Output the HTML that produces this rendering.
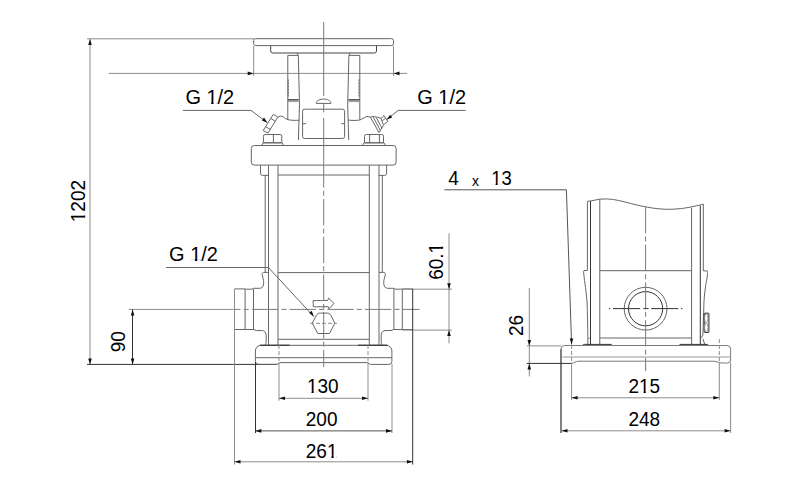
<!DOCTYPE html>
<html><head><meta charset="utf-8">
<style>
html,body{margin:0;padding:0;background:#fff;width:800px;height:492px;overflow:hidden}
svg{display:block}
text{font-family:"Liberation Sans",sans-serif;font-size:19px;fill:#000}
.o{fill:none;stroke:#666;stroke-width:1}
.d{fill:none;stroke:#8c8c8c;stroke-width:1}
.c{fill:none;stroke:#7a7a7a;stroke-width:1;stroke-dasharray:26.3 3.2 5 3.2}
.a{fill:#111;stroke:none}
</style></head><body>
<svg width="800" height="492" viewBox="0 0 800 492">
<rect width="800" height="492" fill="#fff"/>
<!-- ============ FRONT VIEW ============ -->
<g class="d">
<path d="M87 38.8H254M90 39V364.5"/>
<path d="M87 364.4H277" style="stroke:#333"/>
<path d="M108.8 73.4H407M253.7 46V76M393.5 46V76"/>
</g>
<path class="a" d="M90 39l-1.8 6h3.6zM90 364.5l-1.8 -6h3.6z"/>
<path class="a" d="M253.7 73.4l-6 -1.8v3.6zM393.5 73.4l6 -1.8v3.6z"/>

<g class="o">
<path d="M256 38.7H391.5a2 2 0 0 1 2 2V43.6a2 2 0 0 1 -2 2H255.7a2 2 0 0 1 -2 -2V40.7a2 2 0 0 1 2 -2z"/>
<path d="M270.7 45.6V51a2 2 0 0 0 2 2H374.5a2 2 0 0 0 2 -2V45.6" style="stroke:#444"/>
<!-- legs -->
<path d="M287.8 55.4H298.3L299.5 104.8L298.4 140M287.8 55.4V119.7M297 52.8L298.3 55.4"/>
<path d="M359.8 55.4H348.9L347.7 104.8L348.7 140M359.8 55.4V119.7M350.2 52.8L348.9 55.4"/>
<path d="M287.8 99.9H298.6M348.4 99.9H359.5" style="stroke:#222;stroke-width:1.4"/>
<path d="M287.8 101.6H298.7M348.4 101.6H359.5" style="stroke:#999"/>
<path d="M288.3 79.5V96.5M358.9 79.5V96.5" stroke-dasharray="2 1"/>
<!-- dome -->
<path d="M316.2 103.4H331C331 100.5 327 99.1 323.6 99.1S316.2 100.5 316.2 103.4z"/>
<!-- nameplate -->
<rect x="302.6" y="109.2" width="42" height="29.3" rx="2"/>
<path d="M302.6 123.7H306M341.4 123.7H344.6"/>
<!-- housing curves -->
<path d="M277.8 117.4L280.2 116C283 115.6 284.5 118.8 288 119.7C291 120.4 295 120.5 299.5 120.2"/>
<path d="M359.9 120L366.8 116.4L370.4 117.2"/>
<path d="M359.9 120C356 120.6 352 120.6 348 120"/>
<!-- left fitting -->
<path d="M273.3 114.3L277.8 117.2L268 133L263.1 130.6z"/>
<path d="M270.9 118.4L275.3 121.3M265.8 126.8L270.4 129.4"/>
<!-- right fitting -->
<path d="M370.4 117.2C372 116 376 116.5 381 118.4L383.5 125.3L379 132.6z"/>
<path d="M373.3 117.2L380.3 130.3M376.3 117.6L382 128.2"/>
<path d="M381 118.4L384 115.6L387.8 121.3L383.9 124.5"/>
<path d="M382.3 120.8L385.6 118.2"/>
<!-- nuts -->
<path d="M263.4 142.8V136.3a1.8 1.8 0 0 1 1.8 -1.8H280a1.8 1.8 0 0 1 1.8 1.8V142.8zM273.4 134.5V142.8M261.8 145.4L263 142.8H282L283.5 145.4"/>
<path d="M364.5 142.8V136.3a1.8 1.8 0 0 1 1.8 -1.8H381.7a1.8 1.8 0 0 1 1.8 1.8V142.8zM369.6 134.4V142.8M379.4 134.4V142.8M362.5 145.4L364 142.8H384L385.6 145.4"/>
<!-- flange block -->
<rect x="251.3" y="145.5" width="144.8" height="19.6" rx="3"/>
<!-- nuts under flange -->
<path d="M260.5 165.2V173.4a2 2 0 0 0 2 2H268.7M386.6 165.2V173.4a2 2 0 0 1 -2 2H378.6"/>
<!-- tie rods -->
<path d="M265.2 175.4V272.4M268.5 165.2V345M382.3 175.4V272.4M379 165.2V345"/>
<!-- sleeve -->
<path d="M278 165.2V345M369.3 165.2V345M278 175H369.3M278 272.6H369.3M278 339.3H369.3"/>
<!-- casting left -->
<path d="M268.5 272.4H263.6C261.9 272.6 261.8 274 262.4 276C263.4 279 263.9 282 263.6 284C263.2 287 261.9 288.3 259.4 288.3H253.6L251.7 289.2H245.1"/>
<path d="M234.5 288.9H245.1V329.5H234.5M253.5 289V330"/>
<path d="M245.1 329.5H253.6L256.4 330.5H261.4C264.4 330.5 265.9 332 266.2 335V340.5C266.2 343 265.6 344.5 264.8 345.3"/>
<!-- casting right -->
<path d="M379 272.4H383.8C385.5 272.6 385.6 274 385 276C384 279 383.5 282 383.8 284C384.2 287 385.5 288.3 388 288.3H393.8L395.7 289.2H402.3"/>
<path d="M412.7 288.9H402.3V329.5H412.7M393.9 289V330"/>
<path d="M402.3 329.5H393.8L391 330.5H386C383 330.5 381.5 332 381.2 335V340.5C381.2 343 381.8 344.5 382.6 345.3"/>
<!-- base -->
<path d="M255.4 351a5.6 5.6 0 0 1 5.6 -5.7H386.3a5.6 5.6 0 0 1 5.6 5.7V361.4a3 3 0 0 1 -3 3H370.5L367.5 362.6H280L277 364.4H258.4a3 3 0 0 1 -3 -3z"/>
<path d="M255.4 357.7H392"/>
<path d="M260 345.2H289.5M358 345.2H387.5" stroke="#222"/>
</g>
<path class="d" d="M279 345V363M368 345V363" stroke-dasharray="4 2"/>
<!-- center line vertical -->
<path class="d" d="M323.7 22V96M323.7 103V112.4" style="stroke:#777"/>
<path class="d" d="M323.7 118V161.3" style="stroke:#777"/>
<path class="c" d="M323.7 161.3V367"/>
<!-- port centerline -->
<path class="d" d="M129 309.4H235"/>
<path class="c" d="M235 309.4H419.6" stroke-dashoffset="20.8"/>

<!-- pump symbol -->
<g class="o">
<path d="M313.2 300.6C318 300.2 322 301 327.8 300.4L328.5 298.1L334 303.3L329 308.8L328.2 306.7C322 306.4 318 307.2 313.2 306.7C313.8 304.5 312.6 302.7 313.2 300.6z"/>
<path d="M312.2 323.2L316.5 315.2C317.5 313.6 318.8 313.1 320.3 313.1H327C328.5 313.1 329.8 313.6 330.8 315.2L334.9 323.2L329.5 333.5H317.8z"/>
</g>
<path class="d" d="M310 323.3H337" stroke-dasharray="4 2"/>

<!-- G1/2 leaders -->
<g class="d" style="stroke:#666">
<path d="M182.9 110.4H251L267.2 122.6"/>
<path d="M465.7 110.4H398.1L386.7 119.6"/>
<path d="M166.1 267.5H268.4L313.8 316.6"/>
</g>
<path class="a" d="M267.4 122.8l-5.5 -2.4l2.1 -2.8zM386.7 119.6l3.5 -4.8l2 2.6zM313.8 316.6l-4.7 -3.5l2.6 -2.4z"/>

<!-- dim 90 -->
<path class="d" d="M132.5 309.4V364.5" style="stroke:#333"/>
<path class="a" d="M132.6 309.4l-1.8 6h3.6zM132.6 364.4l-1.8 -6h3.6z"/>

<!-- dim 60.1 -->
<path class="d" d="M449 233.3V343.3M402 289.2H452M402 330.1H452"/>
<path class="a" d="M449 289.2l-1.8 -6h3.6zM449 330.1l-1.8 6h3.6z"/>

<!-- bottom dims -->
<g class="d">
<path d="M279 362.6V400.7M368 362.6V400.7M279 398.3H368"/>
<path d="M392 364V433"/>
<path d="M255.4 430.9H392" style="stroke:#555"/>
<path d="M255.5 362V433" style="stroke:#333"/>
<path d="M234.5 288.9V464.5M234.5 461.8H412.9"/>
<path d="M412.7 288.9V464.5" style="stroke:#333"/>
</g>
<path class="a" d="M279 398.3l6 -1.8v3.6zM368 398.3l-6 -1.8v3.6zM255.4 430.9l6 -1.8v3.6zM392 430.9l-6 -1.8v3.6zM234.5 461.8l6 -1.8v3.6zM412.9 461.8l-6 -1.8v3.6z"/>
<!-- ============ SIDE VIEW ============ -->
<g class="o">
<path d="M587.4 201.3L590.5 201L600 199.1C610 198.5 615 199.5 625 202C640 206 655 209.5 670 209.3C685 209 695 206 703.5 204.2"/>
<path d="M587.4 201.3V270.5M599.8 199.1V345M691.6 207.8V345M703.3 204.2V270.9"/>
<path d="M590.5 201V345M700.3 205.6V345" style="stroke:#333"/>
<path d="M599.8 270.7H691.6M599.8 338H691.6"/>
<path d="M587.4 270.5H584C583.5 271 583.6 273 583.8 274C584.5 282 586.5 292 587.2 305C587.6 320 587.8 330 587.8 337.5L589.5 338.5M587.8 338V345"/>
<path d="M703.3 270.9H707.4C707.6 271.5 707.6 273 707.4 274.8C707 279 706 283 705.6 285.8C704.5 295 703.8 300 703.8 307.7C703.4 320 703 330 702.9 335L701 337.9M702.9 338.8L704.7 344.3L708.3 345.2"/>
<circle cx="645.6" cy="308.7" r="21.4"/>
<circle cx="645.6" cy="308.7" r="17.1" stroke="#333"/>
<rect x="704.2" y="313.2" width="4.7" height="19.2" rx="0.6" style="stroke:#222"/><ellipse cx="706.3" cy="318.2" rx="1.8" ry="4.4" style="stroke:#888"/><ellipse cx="706.3" cy="327.4" rx="1.8" ry="4.4" style="stroke:#888"/>
<path d="M582 345.6L584.3 344.4H611.7M679.5 344.4H706.5L708.8 345.6" style="stroke:#333"/>
<path d="M561 433V349a3.5 3.5 0 0 1 3.5 -3.5H727.1a3.5 3.5 0 0 1 3.5 3.5V360a3 3 0 0 1 -3 3H722C719 363 717.5 361.2 713 361.2H579C575 361.2 573.5 363.4 571.5 363.4" style="stroke:#7a7a7a"/>
<path d="M562.5 357H730.6" style="stroke:#999"/>
<path d="M561 349V433" style="stroke:#444"/>
</g>
<path class="c" d="M645.6 207V371"/>
<path d="M608.8 308.6H610.2M613 308.6H640.1M643.3 308.6H648.6M651.2 308.6H678.3M681 308.6H682.4" style="fill:none;stroke:#333;stroke-width:1"/>
<path class="d" d="M571.6 345V363M719.3 339V363" stroke-dasharray="4 2"/>

<!-- leader 4x13 -->
<path class="d" style="stroke:#555" d="M444.4 189.8H566.4L571.6 344.5"/>
<path class="a" d="M571.6 344.5l-1.9 -6l3.6 -0.1z"/>

<!-- dim 26 -->
<path class="d" d="M529.3 288V376.4M526.8 345.9H561"/>
<path class="d" d="M526.8 363.4H572" style="stroke:#333"/>
<path class="a" d="M529.3 345.9l-1.8 -6h3.6zM529.3 363.4l-1.8 6h3.6z"/>

<!-- dims 215 / 248 -->
<g class="d">
<path d="M571.6 363V400M719.3 363V400M571.6 397.8H719.3"/>
<path d="M730.6 362.6V433M561.5 430.8H730.6"/>
</g>
<path class="a" d="M571.6 397.8l6 -1.8v3.6zM719.3 397.8l-6 -1.8v3.6zM561.5 430.8l6 -1.8v3.6zM730.6 430.8l-6 -1.8v3.6z"/>
<!-- ============ TEXT ============ -->
<g transform="translate(185.4 103.8) scale(1.05 1.04)"><text x="0" y="0">G 1/2</text><rect x="21.17" y="-2.1" width="3.39" height="3.4" fill="#fff"/><rect x="26.79" y="-2.1" width="3.10" height="3.4" fill="#fff"/></g>
<g transform="translate(417.3 103.8) scale(1.05 1.04)"><text x="0" y="0">G 1/2</text><rect x="21.17" y="-2.1" width="3.39" height="3.4" fill="#fff"/><rect x="26.79" y="-2.1" width="3.10" height="3.4" fill="#fff"/></g>
<g transform="translate(169.1 261.4) scale(1.05 1.04)"><text x="0" y="0">G 1/2</text><rect x="21.17" y="-2.1" width="3.39" height="3.4" fill="#fff"/><rect x="26.79" y="-2.1" width="3.10" height="3.4" fill="#fff"/></g>
<g transform="translate(448.2 184.5) scale(1 1.05)"><text x="0" y="0">4</text></g>
<g transform="translate(471.9 185.8)"><text x="0" y="0" style="font-size:14px">x</text></g>
<g transform="translate(491.2 184.5) scale(0.97 1.05)"><text x="0" y="0">13</text><rect x="1.11" y="-2.1" width="3.39" height="3.4" fill="#fff"/><rect x="6.74" y="-2.1" width="3.10" height="3.4" fill="#fff"/></g>
<g transform="translate(307 392.8) scale(1 1.07)"><text x="0" y="0">130</text><rect x="1.11" y="-2.1" width="3.39" height="3.4" fill="#fff"/><rect x="6.74" y="-2.1" width="3.10" height="3.4" fill="#fff"/></g>
<g transform="translate(305.8 426.1) scale(1 1.07)"><text x="0" y="0">200</text></g>
<g transform="translate(305.8 457.6) scale(1 1.07)"><text x="0" y="0">261</text><rect x="22.25" y="-2.1" width="3.39" height="3.4" fill="#fff"/><rect x="27.87" y="-2.1" width="3.10" height="3.4" fill="#fff"/></g>
<g transform="translate(628.5 392.8) scale(1 1.07)"><text x="0" y="0">215</text><rect x="11.68" y="-2.1" width="3.39" height="3.4" fill="#fff"/><rect x="17.30" y="-2.1" width="3.10" height="3.4" fill="#fff"/></g>
<g transform="translate(628.5 425.8) scale(1 1.07)"><text x="0" y="0">248</text></g>
<g transform="translate(85.2 222.2) rotate(-90) scale(1 1.08)"><text x="0" y="0">1202</text><rect x="1.11" y="-2.1" width="3.39" height="3.4" fill="#fff"/><rect x="6.74" y="-2.1" width="3.10" height="3.4" fill="#fff"/></g>
<g transform="translate(125.3 352.2) rotate(-90) scale(1 1.08)"><text x="0" y="0">90</text></g>
<g transform="translate(442.8 279.8) rotate(-90) scale(1 1.08)"><text x="0" y="0">60.1</text><rect x="27.53" y="-2.1" width="3.39" height="3.4" fill="#fff"/><rect x="33.15" y="-2.1" width="3.10" height="3.4" fill="#fff"/></g>
<g transform="translate(523.1 336) rotate(-90) scale(1 1.08)"><text x="0" y="0">26</text></g>
</svg>
</body></html>
